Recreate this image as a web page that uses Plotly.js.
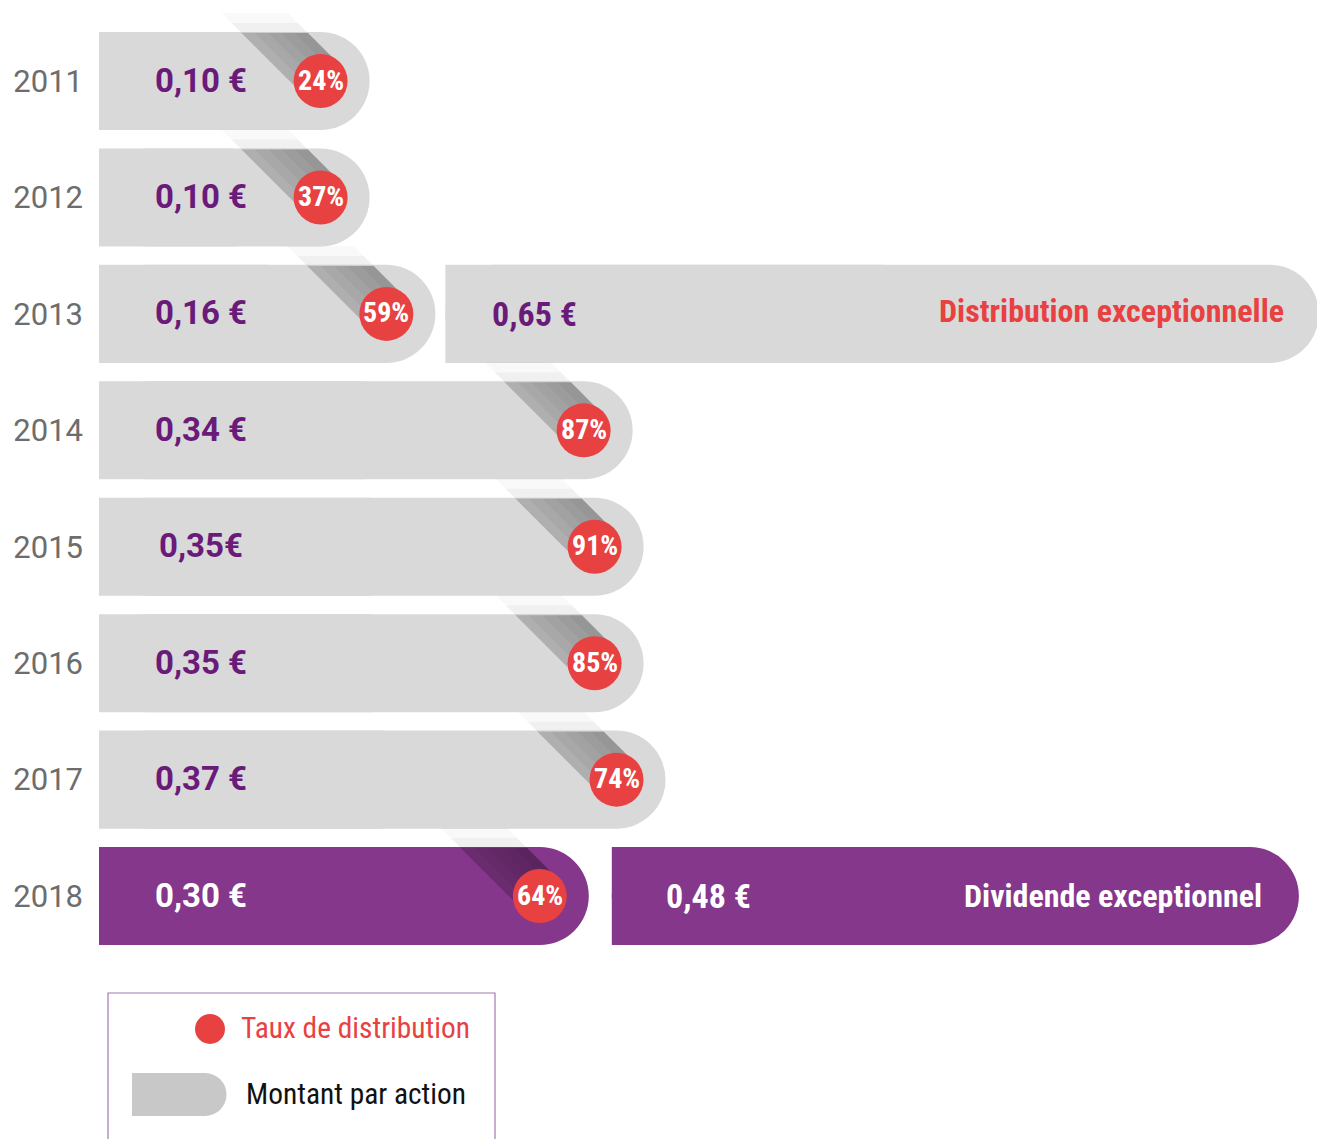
<!DOCTYPE html>
<html>
<head>
<meta charset="utf-8">
<script src="https://cdn.plot.ly/plotly-3.0.1.min.js"></script>
<style>
  html, body { margin: 0; padding: 0; background: #ffffff; }
  #chart { width: 1317px; height: 1139px; }
</style>
</head>
<body>
<div id="chart"></div>
<script>
// ---------------- DATA ----------------
const years = ['2011', '2012', '2013', '2014', '2015', '2016', '2017', '2018'];
const amounts = [0.10, 0.10, 0.16, 0.34, 0.35, 0.35, 0.37, 0.30];
const amountLabels = ['0,10 €', '0,10 €', '0,16 €', '0,34 €', '0,35€', '0,35 €', '0,37 €', '0,30 €'];
const payoutRates = [24, 37, 59, 87, 91, 85, 74, 64];
const exceptionalYears = ['2013', '2018'];
const exceptionalAmounts = [0.65, 0.48];
const exceptionalLabels = ['0,65 €', '0,48 €'];
const exceptionalNames = ['Distribution exceptionnelle', 'Dividende exceptionnel'];
const legendLabels = ['Taux de distribution', 'Montant par action'];

// ---------------- STYLE ----------------
const BASE = -0.1469;            // visual start of every bar (axis units)
const GRAY = '#d9d9d9';
const PURPLE = '#84378b';
const TXT_PURPLE = '#6a1b79';
const RED = '#e84142';
const YEAR_GRAY = '#6d6d6d';
const COND = '"Roboto Condensed", "Liberation Sans Narrow", Roboto, sans-serif';
const ROB = 'Roboto, "Liberation Sans", sans-serif';
const HIGHLIGHT = '2018';
const excGapPx = { '2013': 10, '2018': 23 };
const PX_PER_UNIT = 1096;            // x pixels per axis unit
const Y_RANGE = [7.635, -0.6957];
const PLOT_H = 970;
const PX_PER_ROW = PLOT_H / (Y_RANGE[0] - Y_RANGE[1]);
const CIRCLE_OFF = -49, CIRCLE_R = 27;
const BAR_W = 0.842;

const idx = y => years.indexOf(y);
const colorOf = y => y === HIGHLIGHT ? PURPLE : GRAY;
const excBase = exceptionalYears.map(y => amounts[idx(y)] + excGapPx[y] / PX_PER_UNIT);

function barPair(yIdx, lengths, bases, colors) {
  // rounded bar + square overlay on its left half (square start, rounded end)
  return [
    {
      type: 'bar', orientation: 'h', y: yIdx, x: lengths, base: bases, width: BAR_W,
      marker: { color: colors, cornerradius: '50%', line: { width: 0 } },
      hoverinfo: 'skip', showlegend: false
    },
    {
      type: 'bar', orientation: 'h', y: yIdx, x: lengths.map(l => l / 2), base: bases, width: BAR_W,
      marker: { color: colors, line: { width: 0 } },
      hoverinfo: 'skip', showlegend: false
    }
  ];
}

const traces = [].concat(
  barPair(years.map((y, i) => i), amounts.map(v => v - BASE), years.map(() => BASE), years.map(colorOf)),
  barPair(exceptionalYears.map(idx), exceptionalAmounts.map(v => v - BASE), excBase, exceptionalYears.map(colorOf))
);

const shapes = [];
const annotations = [];

// long shadows: layered translucent polygons, positioned from the bar end value
const R2 = Math.SQRT2;
const N_LO = -22, N_HI = 25;
const shadowLayers = [
  // [top height above circle centre (px), opacity, number of perpendicular slices]
  [48, 0.10, 1],
  [48, 0.035, 5],
  [58, 0.035, 1],
  [68, 0.025, 1]
];
function shadowPath(v, row, n0, H) {
  // offsets in pixels (y up) relative to the bar end, converted to axis units
  const A = [CIRCLE_OFF + n0 / R2, n0 / R2];
  const B = [CIRCLE_OFF + N_HI / R2, N_HI / R2];
  const Ap = [A[0] - (H - A[1]), H];
  const Bp = [B[0] - (H - B[1]), H];
  const P = p => `${v + p[0] / PX_PER_UNIT},${row - p[1] / PX_PER_ROW}`;
  return `M ${P(A)} L ${P(B)} L ${P(Bp)} L ${P(Ap)} Z`;
}
years.forEach((y, i) => {
  const v = amounts[i];
  shadowLayers.forEach(([H, op, K]) => {
    for (let k = 0; k < K; k++) {
      const n0 = N_LO + (N_HI - N_LO) * k / K;
      shapes.push({
        type: 'path', xref: 'x', yref: 'y', path: shadowPath(v, i, n0, H),
        fillcolor: `rgba(0,0,0,${op})`, line: { width: 0 }, layer: 'above'
      });
    }
  });
});
years.forEach((y, i) => {
  const v = amounts[i];
  shapes.push({
    type: 'circle', xref: 'x', yref: 'y', xsizemode: 'pixel', ysizemode: 'pixel',
    xanchor: v, yanchor: i,
    x0: CIRCLE_OFF - CIRCLE_R, x1: CIRCLE_OFF + CIRCLE_R, y0: -CIRCLE_R, y1: CIRCLE_R,
    fillcolor: RED, line: { width: 0 }, layer: 'above'
  });
  annotations.push({
    xref: 'x', yref: 'y', x: v, y: i, xshift: CIRCLE_OFF, yshift: 1,
    text: payoutRates[i] + '%', showarrow: false,
    xanchor: 'center', yanchor: 'middle',
    font: { family: COND, size: 28, color: '#ffffff', weight: 700 }
  });
  annotations.push({
    xref: 'x', yref: 'y', x: BASE, y: i, xshift: amountLabels[i].indexOf(' ') < 0 ? 58 : 54, yshift: 1,
    text: amountLabels[i], showarrow: false,
    xanchor: 'left', yanchor: 'middle',
    font: { family: ROB, size: 33, color: y === HIGHLIGHT ? '#ffffff' : TXT_PURPLE, weight: 700 }
  });
});

// exceptional labels
exceptionalYears.forEach((y, j) => {
  const i = idx(y);
  annotations.push({
    xref: 'x', yref: 'y', x: excBase[j], y: i, xshift: y === HIGHLIGHT ? 52 : 45, yshift: 0,
    text: exceptionalLabels[j], showarrow: false, xanchor: 'left', yanchor: 'middle',
    font: { family: COND, size: 34, color: y === HIGHLIGHT ? '#ffffff' : TXT_PURPLE, weight: 700 }
  });
  annotations.push({
    xref: 'paper', yref: 'y', x: 1, y: i, xshift: y === HIGHLIGHT ? -53 : -31, yshift: y === HIGHLIGHT ? 0 : 3,
    text: exceptionalNames[j], showarrow: false, xanchor: 'right', yanchor: 'middle',
    font: { family: COND, size: 32, color: y === HIGHLIGHT ? '#ffffff' : RED, weight: 700 }
  });
});

// legend (custom box)
const L = { xref: 'paper', yref: 'paper', xsizemode: 'pixel', ysizemode: 'pixel', xanchor: 0, yanchor: 0 };
shapes.push(Object.assign({}, L, { type: 'rect', x0: 9, x1: 396, y0: -23, y1: -200, line: { color: '#a47bb0', width: 1.2 }, fillcolor: 'rgba(0,0,0,0)' }));
shapes.push(Object.assign({}, L, { type: 'circle', x0: 96, x1: 126, y0: -44, y1: -74, fillcolor: RED, line: { width: 0 } }));
shapes.push(Object.assign({}, L, { type: 'rect', x0: 33, x1: 106, y0: -103, y1: -146, fillcolor: '#c8c8c8', line: { width: 0 } }));
shapes.push(Object.assign({}, L, { type: 'circle', x0: 84.5, x1: 127.5, y0: -103, y1: -146, fillcolor: '#c8c8c8', line: { width: 0 } }));
annotations.push({
  xref: 'paper', yref: 'paper', x: 0, y: 0, xshift: 140, yshift: -58,
  text: legendLabels[0], showarrow: false, xanchor: 'left', yanchor: 'middle',
  font: { family: COND, size: 29.4, color: RED }
});
annotations.push({
  xref: 'paper', yref: 'paper', x: 0, y: 0, xshift: 145, yshift: -124,
  text: legendLabels[1], showarrow: false, xanchor: 'left', yanchor: 'middle',
  font: { family: COND, size: 29.4, color: '#111111' }
});

const layout = {
  width: 1317, height: 1139,
  margin: { l: 99, r: 0, t: 0, b: 1139 - PLOT_H, pad: 0 },
  paper_bgcolor: '#ffffff', plot_bgcolor: '#ffffff',
  barmode: 'overlay',
  showlegend: false,
  xaxis: { range: [BASE, BASE + 1218 / PX_PER_UNIT], visible: false, fixedrange: true },
  yaxis: {
    range: Y_RANGE,
    tickvals: years.map((y, i) => i), ticktext: years,
    showgrid: false, zeroline: false, showline: false, ticks: '',
    ticklabelstandoff: 15,
    tickfont: { family: ROB, size: 31, color: YEAR_GRAY },
    fixedrange: true
  },
  shapes: shapes,
  annotations: annotations
};

Plotly.newPlot('chart', traces, layout, { displayModeBar: false, staticPlot: true });
</script>
</body>
</html>
